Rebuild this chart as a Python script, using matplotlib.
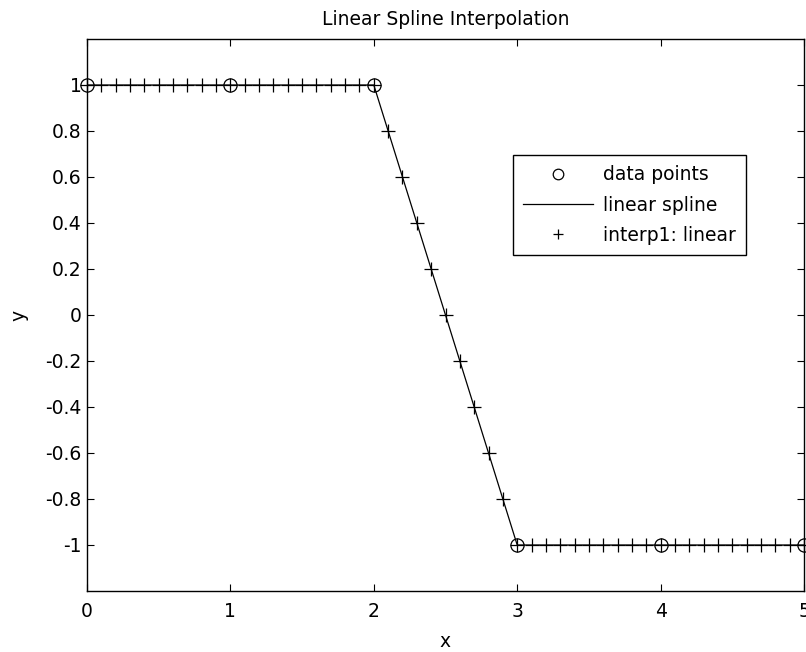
"""
Linear spline interpolation chart (MATLAB-style look).
"""
import matplotlib
matplotlib.use("Agg")
import matplotlib.pyplot as plt
import numpy as np

plt.rcParams['font.family'] = ['DejaVu Sans']

# knots of the step data
x_data = [0, 1, 2, 3, 4, 5]
y_data = [1, 1, 1, -1, -1, -1]

# fine grid evaluated by interp1 (step 0.1)
x_fine = [round(0.1 * i, 1) for i in range(51)]
y_fine = [1.0] * 21 + [0.8, 0.6, 0.4, 0.2, 0.0, -0.2, -0.4, -0.6, -0.8] + [-1.0] * 21

y_ticks = [-1, -0.8, -0.6, -0.4, -0.2, 0, 0.2, 0.4, 0.6, 0.8, 1]
y_tick_labels = ['-1', '-0.8', '-0.6', '-0.4', '-0.2', '0', '0.2', '0.4', '0.6', '0.8', '1']
x_ticks = [0, 1, 2, 3, 4, 5]

FS = 13.5
W, H = 806, 652
fig = plt.figure(figsize=(W / 100, H / 100), dpi=100)
ax = fig.add_axes([87 / W, 1 - 591 / H, (804 - 87) / W, (591 - 39) / H])

ax.plot(x_data, y_data, 'o', color='black', markerfacecolor='none',
        markersize=9.5, markeredgewidth=0.9, label='data points', clip_on=False, zorder=3)
ax.plot(x_data, y_data, '-', color='black', linewidth=0.9, label='linear spline')
ax.plot(x_fine, y_fine, '+', color='black', markersize=9.5, markeredgewidth=0.9,
        label='interp1: linear', clip_on=False, zorder=3)

ax.set_xlim(0, 5)
ax.set_ylim(-1.2, 1.2)
ax.set_xticks(x_ticks)
ax.set_xticklabels([str(t) for t in x_ticks])
ax.set_yticks(y_ticks)
ax.set_yticklabels(y_tick_labels)
ax.tick_params(direction='in', top=True, right=True, length=5, width=0.8,
               labelsize=FS)
ax.tick_params(axis='x', pad=8)
ax.tick_params(axis='y', pad=4)
for s in ax.spines.values():
    s.set_linewidth(1.0)

ax.set_title('Linear Spline Interpolation', fontsize=FS, pad=10)
ax.set_xlabel('x', fontsize=FS, labelpad=8)
ax.set_ylabel('y', fontsize=FS, labelpad=12)

leg = ax.legend(loc='upper left', bbox_to_anchor=(513 / W, 1 - 155 / H),
                bbox_transform=fig.transFigure, borderaxespad=0,
                fancybox=False, edgecolor='black', framealpha=1,
                fontsize=FS, handlelength=3.7, handletextpad=0.55,
                borderpad=0.55, labelspacing=0.6, markerscale=0.8)
leg.get_frame().set_linewidth(1.0)

fig.savefig('out.png', dpi=100)
